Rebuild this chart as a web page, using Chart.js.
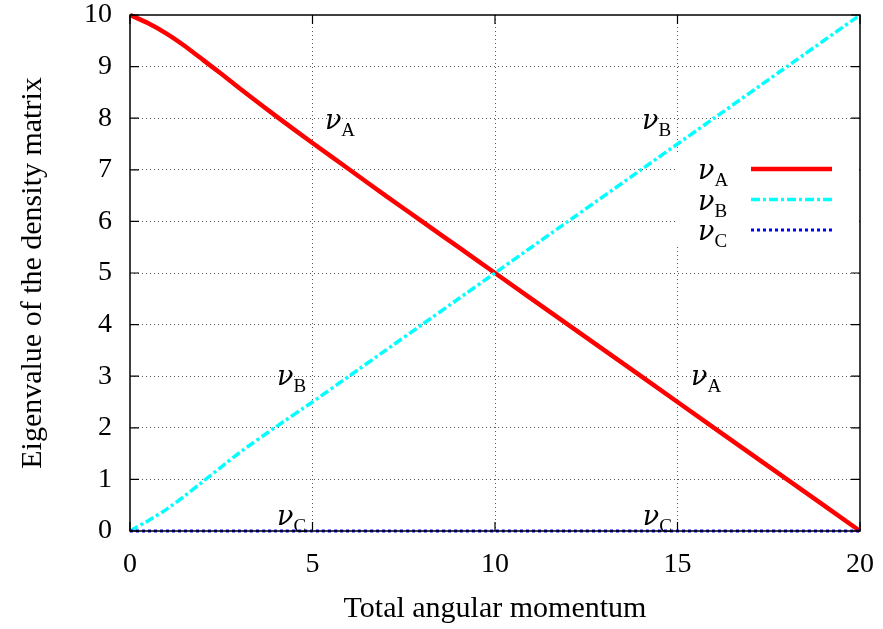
<!DOCTYPE html>
<html>
<head>
<meta charset="utf-8">
<script src="https://cdn.jsdelivr.net/npm/chart.js@4/dist/chart.umd.min.js"></script>
<style>
  html, body { margin: 0; padding: 0; background: #fff; }
  #wrap { width: 883px; height: 629px; }
</style>
</head>
<body>
<div id="wrap"><canvas id="nuGraph"></canvas></div>
<script>
// angular momentum samples
const momentum = [0, 0.5, 1, 1.5, 2, 2.5, 3, 4, 5, 6, 7, 8, 9, 10, 12, 14, 16, 18, 20];

// eigenvalues
const nuA = [10, 9.84, 9.64, 9.4, 9.13, 8.86, 8.58, 8.04, 7.52, 7.01, 6.5, 6.0, 5.5, 5.0, 4.0, 3.0, 2.0, 1.0, 0];
const nuB = [0, 0.2, 0.42, 0.68, 0.96, 1.24, 1.52, 2.02, 2.5, 3.0, 3.5, 4.0, 4.5, 5.0, 6.0, 7.0, 8.0, 9.0, 10];
const nuC = [0, 0, 0, 0, 0, 0, 0, 0, 0, 0, 0, 0, 0, 0, 0, 0, 0, 0, 0];

const seriesNames = ['A', 'B', 'C'];
const seriesColors = ['#ff0000', '#00ffff', '#0000ff'];

// in-plot labels: [subscript, x, y]
const curveLabels = [
    ['A', 5.34, 7.8],
    ['B', 14.03, 7.8],
    ['B', 4.03, 2.83],
    ['A', 15.37, 2.83],
    ['C', 4.03, 0.12],
    ['C', 14.05, 0.12]
];

const xTicks = [0, 5, 10, 15, 20];
const yTicks = [0, 1, 2, 3, 4, 5, 6, 7, 8, 9, 10];

const SERIF = '"Liberation Serif", "DejaVu Serif", serif';

const toPoints = ys => ys.map((y, i) => ({ x: momentum[i], y: y }));

const drawNu = (ctx, sub, x, y) => {
    ctx.save();
    ctx.fillStyle = '#000';
    ctx.textAlign = 'left';
    ctx.textBaseline = 'alphabetic';
    ctx.font = 'italic 27px "DejaVu Serif", serif';
    ctx.fillText('\u03bd', x, y);
    const w = ctx.measureText('\u03bd').width;
    ctx.font = '19px ' + SERIF;
    ctx.fillText(sub, x + w, y + 7);
    ctx.restore();
};

const gnuplotFrame = {
    id: 'gnuplotFrame',
    afterDatasetsDraw(chart) {
        const { ctx, chartArea: a, scales: { x, y } } = chart;
        ctx.save();
        // border
        ctx.strokeStyle = '#000';
        ctx.lineWidth = 1.5;
        ctx.strokeRect(a.left, a.top, a.right - a.left, a.bottom - a.top);
        // inward ticks
        ctx.lineWidth = 1.2;
        ctx.beginPath();
        xTicks.forEach(v => {
            const px = x.getPixelForValue(v);
            ctx.moveTo(px, a.bottom); ctx.lineTo(px, a.bottom - 9);
            ctx.moveTo(px, a.top); ctx.lineTo(px, a.top + 9);
        });
        yTicks.forEach(v => {
            const py = y.getPixelForValue(v);
            ctx.moveTo(a.left, py); ctx.lineTo(a.left + 9, py);
            ctx.moveTo(a.right, py); ctx.lineTo(a.right - 9, py);
        });
        ctx.stroke();

        // curve labels
        curveLabels.forEach(([s, vx, vy]) => {
            drawNu(ctx, s, x.getPixelForValue(vx), y.getPixelForValue(vy));
        });

        // key
        ctx.fillStyle = '#fff';
        ctx.fillRect(677, 153, a.right - 678, 94);
        chart.data.datasets.forEach((ds, i) => {
            const ly = 169 + i * 30.5;
            drawNu(ctx, seriesNames[i], 698, ly + 10);
            ctx.beginPath();
            ctx.strokeStyle = ds.borderColor;
            ctx.lineWidth = ds.borderWidth;
            ctx.setLineDash(ds.borderDash || []);
            ctx.moveTo(751, ly);
            ctx.lineTo(832, ly);
            ctx.stroke();
        });
        ctx.restore();
    }
};

const data = {
    datasets: [{
        label: 'nu_A',
        data: toPoints(nuA),
        borderColor: seriesColors[0],
        borderWidth: 4.5,
        order: 3
    }, {
        label: 'nu_B',
        data: toPoints(nuB),
        borderColor: seriesColors[1],
        borderWidth: 3.5,
        borderDash: [9, 3, 3, 3],
        order: 2
    }, {
        label: 'nu_C',
        data: toPoints(nuC),
        borderColor: seriesColors[2],
        borderWidth: 3,
        borderDash: [3, 3],
        order: 1
    }]
};

const ctx = document.getElementById('nuGraph');
new Chart(ctx, {
    type: 'line',
    data: data,
    plugins: [gnuplotFrame],
    options: {
        responsive: true,
        maintainAspectRatio: false,
        animation: false,
        clip: false,
        layout: { padding: { left: 0, right: 23, top: 15, bottom: 0 } },
        elements: {
            point: { radius: 0 },
            line: { tension: 0.15, borderCapStyle: 'butt' }
        },
        plugins: { legend: { display: false }, tooltip: { enabled: false } },
        scales: {
            x: {
                type: 'linear',
                min: 0,
                max: 20,
                afterFit: s => { s.height = 98; s.paddingLeft = 0; s.paddingRight = 0; },
                afterBuildTicks: s => { s.ticks = xTicks.map(v => ({ value: v })); },
                ticks: { color: '#000', font: { family: SERIF, size: 28 }, padding: 17, maxRotation: 0 },
                grid: {
                    drawTicks: false,
                    lineWidth: 1,
                    color: c => (c.tick && (c.tick.value === 0 || c.tick.value === 20)) ? 'rgba(0,0,0,0)' : '#555'
                },
                border: { display: false, dash: [1, 3] },
                title: {
                    display: true,
                    text: 'Total angular momentum',
                    color: '#000',
                    font: { family: SERIF, size: 30 },
                    padding: { top: 0, bottom: 2 }
                }
            },
            y: {
                min: 0,
                max: 10,
                afterFit: s => { s.width = 130; s.paddingTop = 0; s.paddingBottom = 0; },
                afterBuildTicks: s => { s.ticks = yTicks.map(v => ({ value: v })); },
                ticks: { color: '#000', font: { family: SERIF, size: 28 }, padding: 18 },
                grid: {
                    drawTicks: false,
                    lineWidth: 1,
                    color: c => (c.tick && (c.tick.value === 0 || c.tick.value === 10)) ? 'rgba(0,0,0,0)' : '#555'
                },
                border: { display: false, dash: [1, 3] },
                title: {
                    display: true,
                    text: 'Eigenvalue of the density matrix',
                    color: '#000',
                    font: { family: SERIF, size: 30 },
                    padding: { top: 15, bottom: 0 }
                }
            }
        }
    }
});
</script>
</body>
</html>
